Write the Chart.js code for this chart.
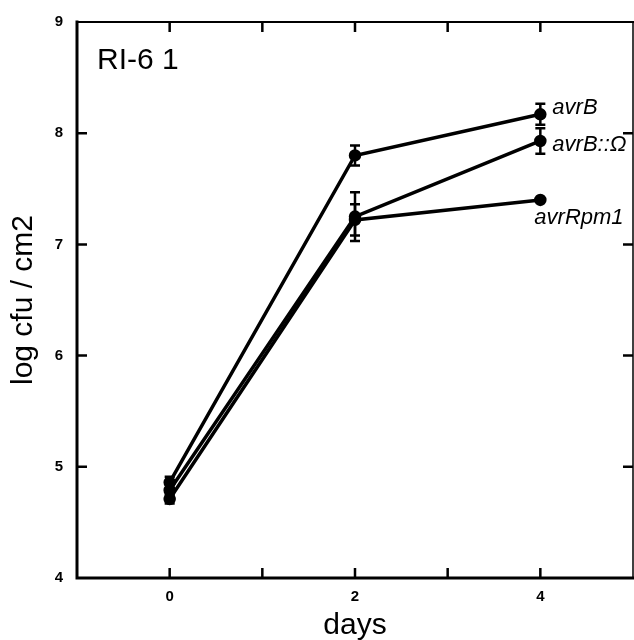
<!DOCTYPE html>
<html>
<head>
<meta charset="utf-8">
<script src="https://cdn.jsdelivr.net/npm/chart.js@4/dist/chart.umd.min.js"></script>
<style>
  body { margin: 0; background: #fff; }
  #wrap { width: 634px; height: 640px; }
</style>
</head>
<body>
<div id="wrap"><canvas id="growthChart" width="634" height="640"></canvas></div>
<script>
const days = [0, 2, 4];
const seriesNames = ['avrB', 'avrB::Ω', 'avrRpm1'];
const avrB = [4.86, 7.80, 8.17];
const avrBErr = [0.05, 0.09, 0.095];
const avrBOmega = [4.79, 7.25, 7.93];
const avrBOmegaErr = [0.05, 0.22, 0.115];
const avrRpm1 = [4.71, 7.22, 7.40];
const avrRpm1Err = [0.04, 0.14, 0];
const xTickLabels = [0, 2, 4];
const panelLabel = 'RI-6 1';

// where each series name sits next to its last point (px offsets)
const nameOffsets = [[12, -6], [12, 4], [-6, 18]];

const FONT = "'Liberation Sans', Arial, Helvetica, sans-serif";

function toPoints(ys) {
  return days.map((d, i) => ({ x: d, y: ys[i] }));
}

const allValues = [avrB, avrBOmega, avrRpm1];
const allErrors = [avrBErr, avrBOmegaErr, avrRpm1Err];

const frameAndExtras = {
  id: 'frameAndExtras',
  afterDatasetsDraw(chart) {
    const { ctx, chartArea: a, scales: { x, y } } = chart;
    ctx.save();
    ctx.strokeStyle = '#000';
    ctx.fillStyle = '#000';

    // error bars
    ctx.lineWidth = 2.5;
    allValues.forEach((vals, s) => {
      vals.forEach((v, i) => {
        const e = allErrors[s][i];
        if (!e) return;
        const px = x.getPixelForValue(days[i]);
        const top = y.getPixelForValue(v + e);
        const bot = y.getPixelForValue(v - e);
        ctx.beginPath();
        ctx.moveTo(px, top); ctx.lineTo(px, bot);
        ctx.moveTo(px - 5, top); ctx.lineTo(px + 5, top);
        ctx.moveTo(px - 5, bot); ctx.lineTo(px + 5, bot);
        ctx.stroke();
      });
    });

    // frame
    ctx.lineCap = 'square';
    ctx.lineWidth = 3;
    ctx.beginPath();
    ctx.moveTo(a.left, a.top); ctx.lineTo(a.left, a.bottom); ctx.lineTo(a.right, a.bottom);
    ctx.stroke();
    ctx.lineWidth = 2;
    ctx.beginPath();
    ctx.moveTo(a.left, a.top); ctx.lineTo(a.right, a.top);
    ctx.stroke();
    ctx.lineWidth = 1.5;
    ctx.beginPath();
    ctx.moveTo(a.right, a.top); ctx.lineTo(a.right, a.bottom);
    ctx.stroke();

    // inward ticks
    ctx.lineCap = 'butt';
    ctx.lineWidth = 2.5;
    const tl = 10;
    for (let v = x.min + 1; v < x.max; v++) {
      const px = x.getPixelForValue(v);
      ctx.beginPath();
      ctx.moveTo(px, a.bottom); ctx.lineTo(px, a.bottom - tl);
      ctx.moveTo(px, a.top); ctx.lineTo(px, a.top + tl);
      ctx.stroke();
    }
    for (let v = y.min + 1; v < y.max; v++) {
      const py = y.getPixelForValue(v);
      ctx.beginPath();
      ctx.moveTo(a.left, py); ctx.lineTo(a.left + tl, py);
      ctx.moveTo(a.right, py); ctx.lineTo(a.right - tl, py);
      ctx.stroke();
    }

    // series names
    ctx.font = 'italic 22px ' + FONT;
    ctx.textBaseline = 'middle';
    ctx.textAlign = 'left';
    seriesNames.forEach((name, s) => {
      const last = days.length - 1;
      const px = x.getPixelForValue(days[last]);
      const py = y.getPixelForValue(allValues[s][last]);
      ctx.fillText(name, px + nameOffsets[s][0], py + nameOffsets[s][1]);
    });

    // panel label
    ctx.font = '30px ' + FONT;
    ctx.textBaseline = 'alphabetic';
    ctx.fillText(panelLabel, a.left + 20, a.top + 47);
    ctx.restore();
  }
};

const lineStyle = {
  showLine: true,
  borderColor: '#000',
  borderWidth: 3.5,
  pointRadius: 4.5,
  pointBackgroundColor: '#000',
  pointBorderColor: '#000',
  tension: 0
};

new Chart(document.getElementById('growthChart').getContext('2d'), {
  type: 'scatter',
  data: {
    datasets: [
      { label: seriesNames[0], data: toPoints(avrB), ...lineStyle },
      { label: seriesNames[1], data: toPoints(avrBOmega), ...lineStyle },
      { label: seriesNames[2], data: toPoints(avrRpm1), ...lineStyle }
    ]
  },
  options: {
    responsive: false,
    animation: false,
    layout: { autoPadding: false, padding: { top: 22, right: 1, left: 0, bottom: 0 } },
    plugins: {
      legend: { display: false },
      tooltip: { enabled: false }
    },
    scales: {
      x: {
        type: 'linear',
        min: -1,
        max: 5,
        afterFit(scale) {
          scale.height = 62;
          scale.paddingLeft = 0;
          scale.paddingRight = 0;
        },
        grid: { display: false, drawTicks: false },
        border: { display: false },
        ticks: {
          stepSize: 1,
          autoSkip: false,
          maxRotation: 0,
          padding: 10,
          color: '#000',
          font: { family: FONT, size: 15, weight: 'bold' },
          callback: v => xTickLabels.includes(v) ? String(v) : ''
        },
        title: {
          display: true,
          text: 'days',
          color: '#000',
          font: { family: FONT, size: 30 },
          padding: { top: 0, bottom: -4 }
        }
      },
      y: {
        min: 4,
        max: 9,
        afterFit(scale) {
          scale.width = 77;
          scale.paddingTop = 0;
          scale.paddingBottom = 0;
        },
        grid: { display: false, drawTicks: false },
        border: { display: false },
        ticks: {
          stepSize: 1,
          padding: 14,
          color: '#000',
          font: { family: FONT, size: 15, weight: 'bold' }
        },
        title: {
          display: true,
          text: 'log cfu / cm2',
          color: '#000',
          font: { family: FONT, size: 30 },
          padding: { top: 6, bottom: 0 }
        }
      }
    }
  },
  plugins: [frameAndExtras]
});
</script>
</body>
</html>
